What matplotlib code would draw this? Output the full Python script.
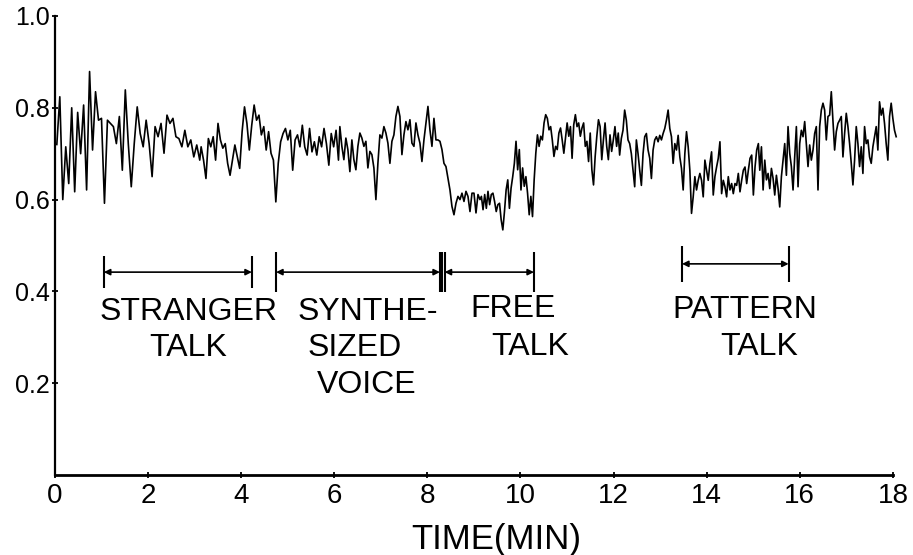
import numpy as np
import matplotlib.pyplot as plt

# trace, in pieces; each piece has its own time span (min)
seg1_span = (0.04, 3.11)
seg1 = [0.72, 0.824, 0.60, 0.715, 0.635, 0.80, 0.617, 0.79, 0.70, 0.806, 0.621, 0.879,
        0.708, 0.835, 0.773, 0.777, 0.592, 0.773, 0.766, 0.759, 0.722, 0.781, 0.664,
        0.839, 0.722, 0.628, 0.722, 0.802, 0.744, 0.715, 0.773, 0.722, 0.650, 0.759,
        0.737, 0.766, 0.701, 0.784, 0.766, 0.777, 0.737, 0.733, 0.715, 0.751, 0.715,
        0.730, 0.693, 0.719, 0.686]

seg2_span = (3.14, 6.09)
seg2 = [0.715, 0.686, 0.646, 0.733, 0.715, 0.737, 0.686, 0.766, 0.730, 0.712, 0.722,
        0.679, 0.653, 0.686, 0.719, 0.693, 0.668, 0.748, 0.802, 0.766, 0.708, 0.762,
        0.806, 0.773, 0.784, 0.741, 0.759, 0.708, 0.748, 0.701, 0.686, 0.595, 0.679,
        0.726, 0.744, 0.755, 0.730, 0.751, 0.664, 0.730, 0.741, 0.715, 0.762, 0.715,
        0.697, 0.755, 0.704, 0.726, 0.697, 0.737, 0.715, 0.755, 0.722, 0.675, 0.744,
        0.715, 0.751, 0.686]

seg3_span = (6.12, 9.13)
seg3 = [0.759, 0.716, 0.687, 0.734, 0.709, 0.661, 0.730, 0.687, 0.665, 0.716, 0.745,
        0.734, 0.716, 0.727, 0.669, 0.705, 0.698, 0.669, 0.600, 0.679, 0.741, 0.734,
        0.759, 0.745, 0.723, 0.679, 0.727, 0.741, 0.781, 0.803, 0.781, 0.698, 0.741,
        0.770, 0.752, 0.774, 0.723, 0.716, 0.767, 0.741, 0.723, 0.683, 0.730, 0.767,
        0.803, 0.752, 0.716, 0.777, 0.730, 0.730, 0.727, 0.709, 0.679, 0.672, 0.647,
        0.621, 0.585, 0.567, 0.592, 0.607, 0.600, 0.614, 0.596, 0.618, 0.607, 0.574,
        0.614, 0.614, 0.571, 0.611, 0.600]

seg4_span = (9.16, 12.10)
seg4 = [0.607, 0.578, 0.611, 0.581, 0.618, 0.589, 0.611, 0.614, 0.596, 0.574, 0.589,
        0.592, 0.556, 0.534, 0.574, 0.621, 0.643, 0.581, 0.625, 0.650, 0.679, 0.727,
        0.665, 0.709, 0.621, 0.669, 0.629, 0.650, 0.614, 0.567, 0.607, 0.563, 0.643,
        0.701, 0.741, 0.716, 0.738, 0.730, 0.767, 0.785, 0.777, 0.752, 0.759, 0.730,
        0.694, 0.716, 0.709, 0.745, 0.756, 0.730, 0.701, 0.734, 0.767, 0.738, 0.759,
        0.690, 0.763, 0.785, 0.759, 0.767, 0.738, 0.756, 0.767, 0.716, 0.727, 0.683,
        0.745, 0.665, 0.632, 0.694, 0.738, 0.774, 0.759, 0.687, 0.730, 0.767, 0.716,
        0.687, 0.741, 0.705, 0.730, 0.759, 0.716, 0.745]

seg5_span = (12.13, 15.11)
seg5 = [0.697, 0.733, 0.751, 0.795, 0.773, 0.730, 0.722, 0.700, 0.664, 0.628, 0.730,
        0.700, 0.664, 0.631, 0.700, 0.737, 0.744, 0.708, 0.690, 0.646, 0.708, 0.730,
        0.737, 0.726, 0.740, 0.730, 0.744, 0.755, 0.773, 0.795, 0.755, 0.737, 0.679,
        0.722, 0.708, 0.740, 0.693, 0.668, 0.621, 0.700, 0.748, 0.715, 0.664, 0.570,
        0.606, 0.650, 0.621, 0.642, 0.657, 0.642, 0.606, 0.686, 0.664, 0.642, 0.679,
        0.704, 0.610, 0.650, 0.671, 0.690, 0.726, 0.613, 0.642, 0.628, 0.606, 0.650,
        0.621, 0.635, 0.613, 0.635, 0.631, 0.657, 0.617, 0.642, 0.664, 0.671, 0.635,
        0.664, 0.690, 0.697, 0.610, 0.671, 0.708, 0.722]

seg6_span = (15.14, 18.07)
seg6 = [0.664, 0.715, 0.621, 0.686, 0.643, 0.657, 0.624, 0.668, 0.646, 0.610, 0.653,
        0.624, 0.584, 0.650, 0.686, 0.722, 0.653, 0.759, 0.701, 0.672, 0.621, 0.693,
        0.759, 0.628, 0.722, 0.751, 0.737, 0.770, 0.722, 0.672, 0.719, 0.686, 0.708,
        0.744, 0.759, 0.621, 0.759, 0.795, 0.810, 0.795, 0.730, 0.781, 0.784, 0.835,
        0.773, 0.708, 0.748, 0.766, 0.773, 0.781, 0.693, 0.744, 0.788, 0.759, 0.722,
        0.679, 0.632, 0.686, 0.759, 0.722, 0.672, 0.715, 0.657, 0.759, 0.722, 0.730,
        0.693, 0.679, 0.715, 0.737, 0.759, 0.708, 0.813, 0.784, 0.799, 0.766, 0.722,
        0.686, 0.781, 0.810, 0.777, 0.751, 0.737]

segments = [(seg1_span, seg1), (seg2_span, seg2), (seg3_span, seg3),
            (seg4_span, seg4), (seg5_span, seg5), (seg6_span, seg6)]

# condition intervals (min)
stranger = (1.05, 4.23)
synth = (4.75, 8.27)
free = (8.37, 10.29)
pattern = (13.47, 15.76)

xticks = [0, 2, 4, 6, 8, 10, 12, 14, 16, 18]
yticks = [0.2, 0.4, 0.6, 0.8, 1.0]
ylabels = ["0.2", "0.4", "0.6", "0.8", "1.0"]

t_all = []
v_all = []
for (t0, t1), vals in segments:
    t_all.extend(np.linspace(t0, t1, len(vals)))
    v_all.extend(vals)

fig = plt.figure(figsize=(9.13, 5.55), dpi=100)
ax = fig.add_axes([0.0602, 0.1441, 0.9178, 0.8271])

ax.plot(t_all, v_all, color="black", lw=1.2, clip_on=False)

ax.set_xlim(0, 18)
ax.set_ylim(0, 1.0)
ax.spines["top"].set_visible(False)
ax.spines["right"].set_visible(False)
ax.spines["left"].set_linewidth(1.6)
ax.spines["bottom"].set_linewidth(2.0)

ax.set_xticks(xticks)
ax.set_xticklabels([str(x) for x in xticks], fontsize=20, family="Liberation Sans")
ax.set_yticks(yticks)
ax.set_yticklabels(ylabels, fontsize=18, family="Liberation Sans")
ax.tick_params(axis="both", direction="inout", length=5, width=1.3, colors="black")
ax.tick_params(axis="x", pad=3)
ax.tick_params(axis="y", pad=1)

ax.set_xlabel("TIME(MIN)", fontsize=25, family="Liberation Sans")
ax.xaxis.set_label_coords(0.527, -0.105)


def span(ax, lo, hi, y, half):
    ax.annotate("", xy=(hi, y), xytext=(lo, y),
                arrowprops=dict(arrowstyle="<|-|>", lw=1.2, color="black",
                                mutation_scale=9, shrinkA=0, shrinkB=0))
    ax.vlines([lo, hi], y - half, y + half, color="black", lw=1.5)


span(ax, stranger[0], stranger[1], 0.442, 0.035)
span(ax, synth[0], synth[1], 0.442, 0.044)
span(ax, free[0], free[1], 0.442, 0.044)
ax.vlines([synth[1] + 0.05], 0.442 - 0.044, 0.442 + 0.044, color="black", lw=1.5)
span(ax, pattern[0], pattern[1], 0.46, 0.04)

lab = dict(fontsize=23, family="Liberation Sans", ha="center", va="center")
ax.text(2.86, 0.355, "STRANGER", **lab)
ax.text(2.86, 0.277, "TALK", **lab)
ax.text(6.72, 0.355, "SYNTHE-", **lab)
ax.text(6.44, 0.277, "SIZED", **lab)
ax.text(6.70, 0.196, "VOICE", **lab)
ax.text(9.84, 0.361, "FREE", **lab)
ax.text(10.20, 0.279, "TALK", **lab)
ax.text(14.82, 0.359, "PATTERN", **lab)
ax.text(15.12, 0.279, "TALK", **lab)

fig.savefig("out.png", dpi=100)
